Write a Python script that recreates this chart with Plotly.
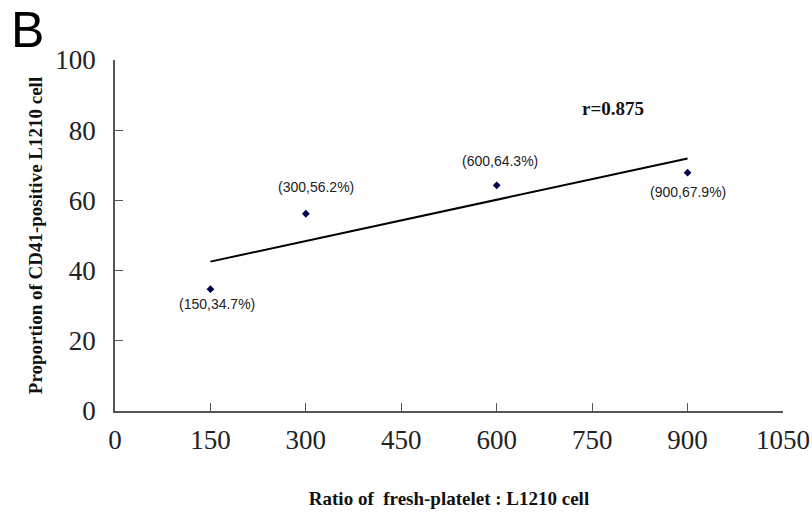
import numpy as np
import plotly.graph_objects as go

ratio = [150, 300, 600, 900]
proportion = [34.7, 56.2, 64.3, 67.9]
point_labels = ["(150,34.7%)", "(300,56.2%)", "(600,64.3%)", "(900,67.9%)"]
x_ticks = [0, 150, 300, 450, 600, 750, 900, 1050]
y_ticks = [0, 20, 40, 60, 80, 100]
r_text = "r=0.875"

# label offsets (style): (xshift, yshift)
label_offsets = [(7, -15), (10, 27), (3, 24), (0, -19)]

slope, intercept = np.polyfit(ratio, proportion, 1)
fit_x = [min(ratio), max(ratio)]
fit_y = [slope * v + intercept for v in fit_x]

fig = go.Figure()
fig.add_trace(go.Scatter(x=fit_x, y=fit_y, mode="lines",
                         line=dict(color="black", width=2), showlegend=False))
fig.add_trace(go.Scatter(x=ratio, y=proportion, mode="markers",
                         marker=dict(symbol="diamond", size=6, color="#000050"),
                         showlegend=False))

for xv, yv, t, (dx, dy) in zip(ratio, proportion, point_labels, label_offsets):
    fig.add_annotation(x=xv, y=yv, text=t, showarrow=False, xshift=dx, yshift=dy,
                       font=dict(family="Liberation Sans, Arial", size=14, color="#222"))

fig.add_annotation(x=783, y=86.3, text="<b>" + r_text + "</b>", showarrow=False,
                   font=dict(family="Liberation Serif, Times New Roman", size=19, color="#111"))

fig.add_annotation(xref="paper", yref="paper", x=-0.159, y=1.17, xanchor="left", yanchor="top",
                   text="B", showarrow=False,
                   font=dict(family="Liberation Sans, Arial", size=50, color="black"))

axis_font = dict(family="Liberation Serif, Times New Roman", size=27, color="#222")
fig.update_layout(
    width=812, height=513,
    margin=dict(l=115, r=29, t=60, b=102, autoexpand=False),
    paper_bgcolor="white", plot_bgcolor="white",
    xaxis=dict(range=[0, 1050], tickvals=x_ticks, ticks="inside", ticklen=8, automargin=False,
               tickcolor="#555", tickwidth=1.3, showline=True, linecolor="#555", linewidth=1.5,
               showgrid=False, zeroline=False, tickfont=axis_font, ticklabelstandoff=4,
               title=dict(text="<b>Ratio of  fresh-platelet : L1210 cell</b>", standoff=38,
                          font=dict(family="Liberation Serif, Times New Roman", size=19, color="#111"))),
    yaxis=dict(range=[0, 100], tickvals=y_ticks, ticks="inside", ticklen=8, automargin=False,
               tickcolor="#555", tickwidth=1.3, showline=True, linecolor="#555", linewidth=1.5,
               showgrid=False, zeroline=False, tickfont=axis_font, ticklabelstandoff=12,
               title=dict(text="<b>Proportion of CD41-positive L1210 cell</b>", standoff=8,
                          font=dict(family="Liberation Serif, Times New Roman", size=19, color="#111"))),
)

fig.write_html("out.html", config={"displayModeBar": False},
               post_script="document.body.style.margin='0px';")
